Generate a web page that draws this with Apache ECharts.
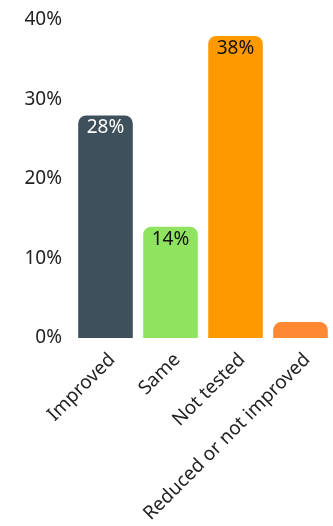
<!DOCTYPE html>
<html><head><meta charset="utf-8">
<script src="https://cdn.jsdelivr.net/npm/echarts@6/dist/echarts.min.js"></script>
<style>html,body{margin:0;padding:0;background:#fff}#c{width:333px;height:526px}</style>
</head><body><div id="c"></div>
<script>
const categories = ["Improved", "Same", "Not tested", "Reduced or not improved"];
const values = [28, 14, 38, 2];
const colors = ["#3e505b", "#8fe35f", "#ff9900", "#ff8833"];
const labelColors = ["#ffffff", "#111111", "#111111", "#111111"];
const showLabel = [true, true, true, false];
const yTicks = [0, 10, 20, 30, 40];

const font = "Noto Sans";
const chart = echarts.init(document.getElementById('c'));
chart.setOption({
  animation: false,
  grid: {left: 73, right: -6, top: 20, bottom: 188},
  xAxis: {
    type: 'category', data: categories,
    axisLine: {show: false}, axisTick: {show: false},
    axisLabel: {rotate: 45, interval: 0, fontSize: 19, color: '#222', fontFamily: font, margin: 12, verticalAlign: 'top'}
  },
  yAxis: {
    type: 'value', min: yTicks[0], max: yTicks[yTicks.length-1], interval: 10,
    splitLine: {show: false}, axisLine: {show: false}, axisTick: {show: false},
    axisLabel: {formatter: v => v + '%', fontSize: 19, color: '#222', fontFamily: font, margin: 11}
  },
  series: [{
    type: 'bar', barCategoryGap: '16%',
    data: values.map((v, i) => ({
      value: v,
      itemStyle: {color: colors[i], borderRadius: [8, 8, 0, 0]},
      label: {show: showLabel[i], position: 'insideTop', distance: 3, color: labelColors[i],
        fontSize: 19, fontFamily: font, formatter: p => p.value + '%'}
    }))
  }]
});
</script></body></html>
